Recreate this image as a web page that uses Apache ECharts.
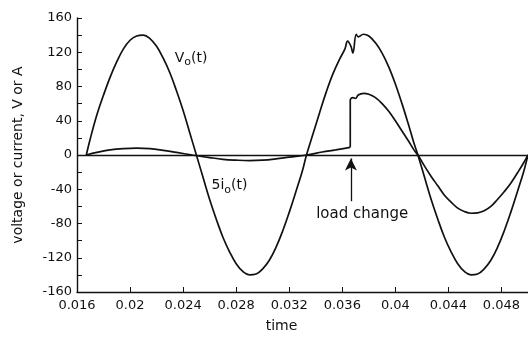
<!DOCTYPE html>
<html>
<head>
<meta charset="utf-8">
<script src="https://cdn.jsdelivr.net/npm/echarts@6/dist/echarts.min.js"></script>
<style>
  html, body { margin: 0; padding: 0; background: #fff; }
  #chart { width: 528px; height: 340px; }
</style>
</head>
<body>
<div id="chart"></div>
<script>
// output voltage vo(t), [time, volts]
const voltage = [
  [0.0167, 0], [0.017, 19], [0.0175, 47], [0.018, 70], [0.0185, 91], [0.019, 109], [0.0195, 124],
  [0.02, 134], [0.0205, 139], [0.021, 140], [0.0215, 136], [0.022, 127], [0.0225, 113], [0.023, 96],
  [0.0235, 75], [0.024, 52], [0.0245, 26], [0.025, 0], [0.0255, -26], [0.026, -52], [0.0265, -75],
  [0.027, -96], [0.0275, -113], [0.028, -127], [0.0285, -136], [0.029, -140], [0.0295, -139],
  [0.03, -133], [0.0305, -123], [0.031, -108], [0.0315, -89], [0.032, -67], [0.0325, -43],
  [0.033, -18], [0.0333, 0], [0.0338, 25], [0.0343, 50], [0.0348, 74], [0.0353, 95], [0.0358, 112],
  [0.0362, 124], [0.0364, 133], [0.03665, 127], [0.0368, 119], [0.03705, 141], [0.0372, 138],
  [0.0376, 141], [0.038, 139], [0.0385, 131], [0.039, 119], [0.0395, 103], [0.04, 83], [0.0405, 60],
  [0.041, 35], [0.0414, 14], [0.0417, 0], [0.0422, -26], [0.0427, -52], [0.0432, -75], [0.0437, -96],
  [0.0442, -113], [0.0447, -127], [0.0452, -136], [0.0457, -140], [0.0462, -139], [0.0467, -133],
  [0.0472, -123], [0.0477, -108], [0.0482, -89], [0.0487, -67], [0.0492, -43], [0.0497, -18], [0.05, 0]
];

// 5*io(t) before the load change
const currentBefore = [
  [0.0167, 0], [0.0175, 3], [0.0185, 6], [0.0195, 7.5], [0.0205, 8], [0.0215, 7.5], [0.0225, 5.5],
  [0.0235, 3], [0.0247, 0], [0.026, -3], [0.027, -5], [0.028, -6], [0.029, -6.5], [0.03, -6],
  [0.031, -4.5], [0.032, -2.5], [0.0333, 0], [0.0345, 3.5], [0.0355, 6], [0.0366, 9]
];

// 5*io(t) after the load change
const currentAfter = [
  [0.0366, 9], [0.0366, 64], [0.0368, 67], [0.037, 66], [0.0372, 70], [0.0376, 72], [0.038, 71],
  [0.0385, 67], [0.039, 60], [0.0395, 51], [0.04, 40], [0.0405, 28], [0.041, 16], [0.0414, 6],
  [0.0417, 0], [0.0422, -13], [0.0427, -25], [0.0432, -36], [0.0437, -47], [0.0442, -55],
  [0.0447, -62], [0.0452, -66], [0.0457, -68], [0.0462, -67.5], [0.0467, -65], [0.0472, -60],
  [0.0477, -52], [0.0482, -43], [0.0487, -33], [0.0492, -21], [0.0497, -8.5], [0.05, 0]
];

const xTicks = { min: 0.016, max: 0.05, interval: 0.004 };
const yTicks = { min: -160, max: 160, interval: 40 };

const ink = '#111';
const font = 'DejaVu Sans';

const chart = echarts.init(document.getElementById('chart'), null, { renderer: 'canvas' });

const lineStyle = { color: ink, width: 1.7 };
const subRich = { s: { fontSize: 11, fontFamily: font, color: ink, padding: [8, 0, 0, 0] } };

chart.setOption({
  backgroundColor: '#fff',
  animation: false,
  grid: { left: 77, right: 0, top: 18, bottom: 48 },
  xAxis: {
    type: 'value',
    min: xTicks.min, max: xTicks.max, interval: xTicks.interval,
    name: 'time',
    nameLocation: 'middle',
    nameGap: 27,
    nameTextStyle: { color: ink, fontFamily: font, fontSize: 14, padding: [0, 42, 0, 0] },
    axisLine: { onZero: false, lineStyle: { color: ink, width: 1.4 } },
    axisTick: { inside: true, length: 5, lineStyle: { color: ink } },
    axisLabel: { color: ink, fontFamily: font, fontSize: 13, margin: 7, showMaxLabel: false },
    splitLine: { show: false }
  },
  yAxis: {
    type: 'value',
    min: yTicks.min, max: yTicks.max, interval: yTicks.interval,
    name: 'voltage or current, V or A',
    nameLocation: 'middle',
    nameGap: 52,
    nameTextStyle: { color: ink, fontFamily: font, fontSize: 14 },
    axisLine: { show: true, lineStyle: { color: ink, width: 1.4 } },
    axisTick: { show: true, inside: true, length: 5, lineStyle: { color: ink } },
    minorTick: { show: true, splitNumber: 2, length: 5, lineStyle: { color: ink } },
    axisLabel: { color: ink, fontFamily: font, fontSize: 13, margin: 5 },
    splitLine: { show: false }
  },
  series: [
    {
      type: 'line',
      data: voltage,
      smooth: 0.4,
      showSymbol: false,
      lineStyle,
      markLine: {
        silent: true,
        symbol: 'none',
        label: { show: false },
        lineStyle: { color: ink, width: 1.3, type: 'solid' },
        data: [{ yAxis: 0 }]
      },
      markPoint: {
        symbol: 'circle',
        symbolSize: 0,
        label: { show: true, color: ink, fontFamily: font, fontSize: 14, formatter: 'V{s|o}(t)', rich: subRich },
        data: [{ coord: [0.0246, 113] }]
      }
    },
    {
      type: 'line',
      data: currentBefore,
      smooth: 0.4,
      showSymbol: false,
      lineStyle,
      markPoint: {
        symbol: 'circle',
        symbolSize: 0,
        label: { show: true, color: ink, fontFamily: font, fontSize: 14, formatter: '5i{s|o}(t)', rich: subRich },
        data: [{ coord: [0.0275, -36] }]
      }
    },
    {
      type: 'line',
      data: currentAfter,
      smooth: 0.4,
      showSymbol: false,
      lineStyle,
      markLine: {
        silent: true,
        lineStyle: { color: ink, width: 1.3, type: 'solid' },
        label: { show: false },
        symbolSize: [9, 12],
        data: [[
          { coord: [0.03665, -54], symbol: 'none' },
          { coord: [0.03665, -4], symbol: 'arrow' }
        ]]
      },
      markPoint: {
        symbol: 'circle',
        symbolSize: 0,
        label: { show: true, color: ink, fontFamily: font, fontSize: 15, formatter: 'load change' },
        data: [{ coord: [0.0375, -69] }]
      }
    }
  ]
});
</script>
</body>
</html>
